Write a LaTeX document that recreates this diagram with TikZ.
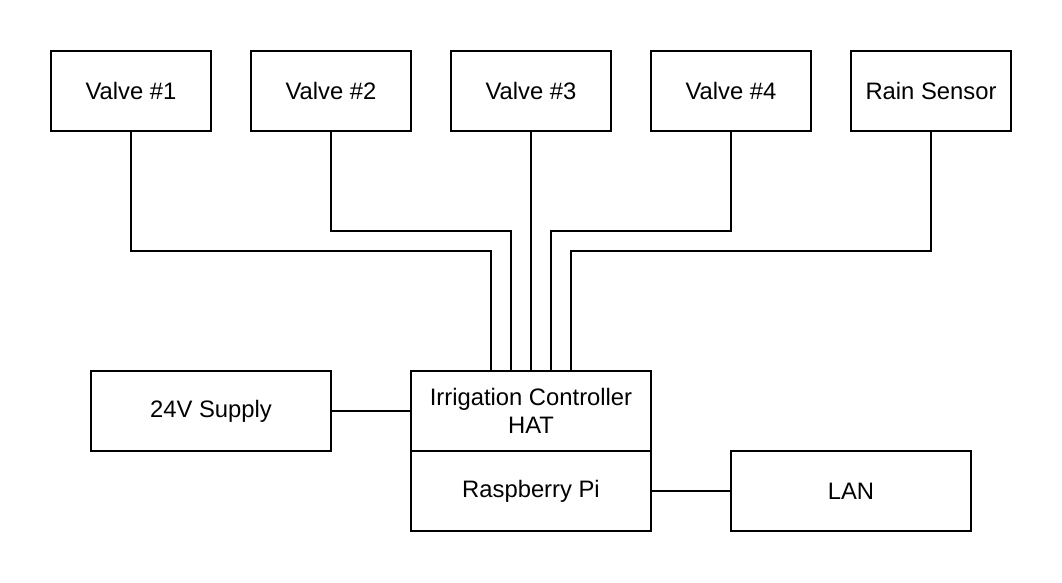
\documentclass[tikz,border=0pt]{standalone}
\usepackage{fontspec}
\setmainfont{Liberation Sans}
\begin{document}
\begin{tikzpicture}[x=1pt,y=-1pt,
  box/.style={draw,line width=2pt,minimum width=160pt,minimum height=80pt,inner sep=0pt,font=\fontsize{23.8}{28.5}\selectfont,align=center},
  wide/.style={box,minimum width=240pt},
  wire/.style={line width=2pt}]
\useasboundingbox (0,0) rectangle (1062,582);
\node[box] (v1) at (131,91) {Valve \#1};
\node[box] (v2) at (331,91) {Valve \#2};
\node[box] (v3) at (531,91) {Valve \#3};
\node[box] (v4) at (731,91) {Valve \#4};
\node[box] (rs) at (931,91) {Rain Sensor};
\node[wide] (sup) at (211,411) {24V Supply};
\node[wide] (hat) at (531,411) {Irrigation Controller\\HAT};
\node[wide] (pi) at (531,491) {Raspberry Pi};
\node[wide] (lan) at (851,491) {LAN};
\draw[wire] (v1.south) |- (491,251) -- (491,371);
\draw[wire] (v2.south) |- (511,231) -- (511,371);
\draw[wire] (v3.south) -- (hat.north);
\draw[wire] (v4.south) |- (551,231) -- (551,371);
\draw[wire] (rs.south) |- (571,251) -- (571,371);
\draw[wire] (sup.east) -- (hat.west);
\draw[wire] (pi.east) -- (lan.west);
\end{tikzpicture}
\end{document}
